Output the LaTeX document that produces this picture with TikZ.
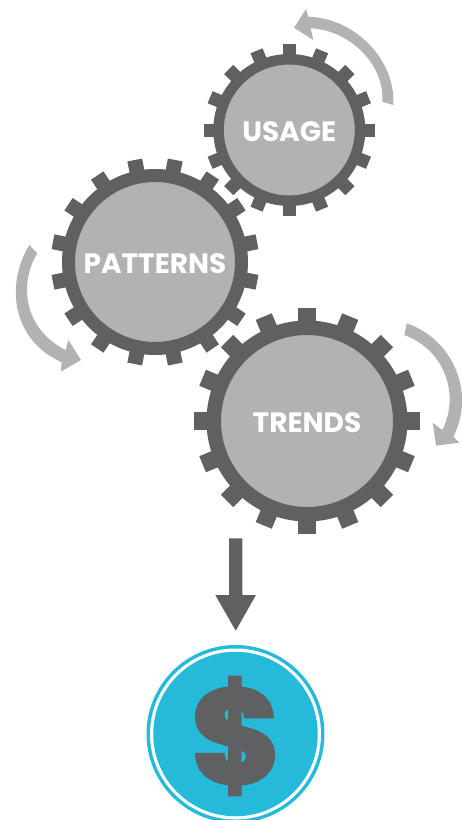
\documentclass[tikz,border=0pt]{standalone}
\usepackage{fontspec}
\usetikzlibrary{positioning}
\setmainfont{Poppins}
\newfontfamily\dollarfont[FakeBold=3.5,FakeStretch=1.04]{Poppins}

\definecolor{geardark}{HTML}{5F6062}
\definecolor{gearlight}{HTML}{B2B2B0}
\definecolor{coinblue}{HTML}{25BAD9}

\tikzset{
  hub/.style={circle,draw=geardark,fill=gearlight,inner sep=0pt,text=white,
              text height=22.5pt,text depth=0pt,
              font=\fontsize{28}{28}\selectfont\bfseries},
  tooth/.style={fill=geardark},
  turn/.style={fill=gearlight},
  coin/.style={circle,fill=coinblue,inner sep=0pt}
}

\begin{document}
\begin{tikzpicture}[x=1pt,y=-1pt]

\useasboundingbox (0,0) rectangle (462,820);

\node[hub,minimum size=141.5pt,line width=10.5pt] (usage) at (289.3,130.0) {USAGE};
\node[hub,minimum size=173pt,line width=13pt] (patterns) at (155.0,262.0) {PATTERNS};
\node[hub,minimum size=186.5pt,line width=14.5pt] (trends) at (307.0,421.0) {TRENDS};

\foreach \g/\off/\r/\t/\w in {usage/0/74/85.7/6.5,patterns/11.25/91/104/7.5,trends/0/98/113/8.7}
  {\foreach \x in {0,...,15}
    {\fill[tooth,shift={(\g)},rotate=\off+22.5*\x] (\r,-\w) rectangle (\t,\w);}}

% turning arrows
\fill[turn] (393.3,105.0) .. controls (396.0,60.0) and (355.0,18.0) .. (308.3,16.7)
  -- (306.0,9.0) -- (294.0,27.7) -- (313.3,40.0) -- (310.7,28.3)
  .. controls (350.0,30.0) and (385.0,65.0) .. (382.3,101.7) -- cycle;
\fill[turn] (29.3,245.0) .. controls (5.0,285.0) and (12.0,340.0) .. (61.7,362.3)
  -- (60.7,371.7) -- (81.0,360.0) -- (68.3,340.0) -- (65.7,350.0)
  .. controls (25.0,330.0) and (18.0,285.0) .. (37.3,253.3) -- cycle;
\fill[turn] (406.7,323.3) .. controls (455.0,340.0) and (475.0,395.0) .. (453.3,436.7)
  -- (459.3,442.7) -- (436.0,445.7) -- (432.7,422.7) -- (442.3,430.0)
  .. controls (460.0,395.0) and (445.0,350.0) .. (404.3,335.0) -- cycle;

% down arrow
\fill[tooth] (229.0,538.3) -- (242.3,538.3) -- (242.3,595.0) -- (256.0,595.0)
  -- (235.7,630.7) -- (215.3,595.0) -- (229.0,595.0) -- cycle;

\node[coin,minimum size=178pt] (ring) at (235.5,734.0) {};
\node[circle,fill=white,inner sep=0pt,minimum size=171pt] (gap) at (ring) {};
\node[coin,minimum size=164.5pt] (face) at (ring) {};
\node[inner sep=0pt,text=geardark,font=\fontsize{132}{132}\dollarfont\bfseries] (dollar) at (236.5,736.0) {\$};

\end{tikzpicture}
\end{document}
